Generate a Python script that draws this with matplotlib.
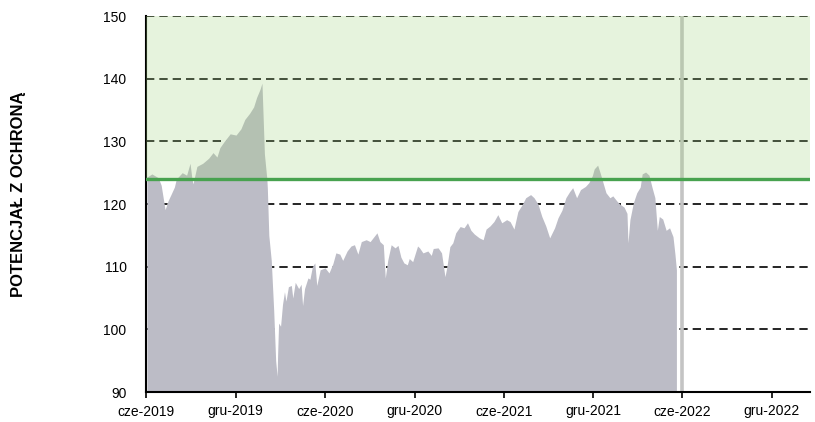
import numpy as np
import pandas as pd
import matplotlib
matplotlib.use("Agg")
import matplotlib.pyplot as plt

plt.rcParams['font.family'] = ['Liberation Sans', 'DejaVu Sans']

# series
dates = ['2019-06-03', '2019-06-13', '2019-06-26', '2019-07-02', '2019-07-10', '2019-07-16',
         '2019-07-22', '2019-07-29', '2019-08-02', '2019-08-14', '2019-08-23', '2019-08-30',
         '2019-09-03', '2019-09-05', '2019-09-13', '2019-09-25', '2019-10-07', '2019-10-16',
         '2019-10-24', '2019-10-30', '2019-11-08', '2019-11-20', '2019-12-02', '2019-12-12',
         '2019-12-20', '2019-12-30', '2020-01-07', '2020-01-13', '2020-01-20', '2020-01-24',
         '2020-01-29', '2020-02-03', '2020-02-04', '2020-02-07', '2020-02-12', '2020-02-17',
         '2020-02-21', '2020-02-24', '2020-02-25', '2020-02-27', '2020-03-02', '2020-03-06',
         '2020-03-10', '2020-03-13', '2020-03-18', '2020-03-24', '2020-03-27', '2020-04-01',
         '2020-04-08', '2020-04-13', '2020-04-16', '2020-04-20', '2020-04-27', '2020-05-01',
         '2020-05-06', '2020-05-11', '2020-05-15', '2020-05-22', '2020-06-01', '2020-06-09',
         '2020-06-17', '2020-06-23', '2020-07-01', '2020-07-07', '2020-07-16', '2020-07-24',
         '2020-07-31', '2020-08-07', '2020-08-14', '2020-08-24', '2020-09-01', '2020-09-09',
         '2020-09-15', '2020-09-21', '2020-09-28', '2020-10-02', '2020-10-07', '2020-10-14',
         '2020-10-22', '2020-10-28', '2020-11-03', '2020-11-09', '2020-11-16', '2020-11-20',
         '2020-11-27', '2020-12-07', '2020-12-11', '2020-12-18', '2020-12-28', '2021-01-04',
         '2021-01-08', '2021-01-18', '2021-01-25', '2021-01-29', '2021-02-01', '2021-02-05',
         '2021-02-11', '2021-02-17', '2021-02-23', '2021-03-04', '2021-03-12', '2021-03-19',
         '2021-03-26', '2021-04-02', '2021-04-12', '2021-04-20', '2021-04-26', '2021-05-04',
         '2021-05-12', '2021-05-20', '2021-05-28', '2021-06-07', '2021-06-14', '2021-06-22',
         '2021-06-30', '2021-07-08', '2021-07-16', '2021-07-26', '2021-08-02', '2021-08-10',
         '2021-08-18', '2021-08-26', '2021-09-03', '2021-09-13', '2021-09-20', '2021-09-28',
         '2021-10-06', '2021-10-14', '2021-10-20', '2021-10-28', '2021-11-05', '2021-11-15',
         '2021-11-22', '2021-11-29', '2021-12-03', '2021-12-10', '2021-12-15', '2021-12-21',
         '2021-12-27', '2022-01-04', '2022-01-10', '2022-01-18', '2022-01-24', '2022-02-02',
         '2022-02-08', '2022-02-10', '2022-02-14', '2022-02-21', '2022-02-28', '2022-03-07',
         '2022-03-11', '2022-03-18', '2022-03-25', '2022-03-31', '2022-04-06', '2022-04-11',
         '2022-04-15', '2022-04-22', '2022-04-29', '2022-05-06', '2022-05-13', '2022-05-17',
         '2022-05-20']
values = [124.3, 124.8, 124.2, 123.0, 119.1, 120.5,
          121.5, 122.7, 124.0, 125.0, 124.6, 126.5,
          124.0, 123.2, 126.0, 126.5, 127.3, 128.2,
          127.5, 129.0, 130.0, 131.2, 131.0, 132.0,
          133.5, 134.5, 135.5, 137.0, 138.3, 139.3,
          128.0, 124.0, 122.5, 115.0, 111.0, 103.0,
          95.0, 92.5, 96.0, 101.0, 100.5, 104.0,
          106.0, 104.5, 106.8, 107.0, 105.0, 107.5,
          106.5, 107.2, 103.8, 106.5, 108.2, 108.0,
          110.0, 110.6, 107.0, 109.5, 109.8, 109.0,
          110.5, 112.2, 112.0, 111.0, 112.5, 113.3,
          113.5, 112.0, 114.0, 114.3, 114.0, 114.8,
          115.4, 114.0, 113.5, 108.2, 111.0, 113.5,
          113.0, 113.4, 111.5, 110.6, 110.3, 111.3,
          110.8, 113.3, 113.0, 112.2, 112.5, 111.8,
          112.9, 113.0, 112.2, 110.0, 108.4, 110.0,
          113.2, 113.8, 115.4, 116.4, 116.2, 117.0,
          115.8, 115.2, 114.6, 114.3, 116.0, 116.5,
          117.2, 118.3, 117.0, 117.5, 117.2, 116.0,
          118.8, 119.8, 121.0, 121.5, 121.0, 120.0,
          118.0, 116.5, 114.6, 116.2, 117.8, 119.0,
          121.0, 122.0, 122.6, 121.0, 122.3, 122.8,
          123.4, 124.5, 125.6, 126.2, 125.0, 123.4,
          121.8, 121.0, 121.3, 120.5, 120.0, 119.5,
          118.5, 113.8, 117.5, 120.2, 121.8, 122.7,
          124.8, 125.1, 124.6, 122.7, 121.0, 115.8,
          118.0, 117.6, 115.8, 116.2, 114.8, 112.0,
          109.5]

protection_level = 124
band_top = 150
marker_date = '2022-06-01'

tick_dates = ['2019-06-01', '2019-12-01', '2020-06-01', '2020-12-01',
              '2021-06-01', '2021-12-01', '2022-06-01', '2022-12-01']
tick_labels = ['cze-2019', 'gru-2019', 'cze-2020', 'gru-2020',
               'cze-2021', 'gru-2021', 'cze-2022', 'gru-2022']
y_ticks = [90, 100, 110, 120, 130, 140, 150]

x = pd.to_datetime(dates)
x_min = pd.Timestamp('2019-06-01')
x_max = pd.Timestamp('2023-02-17')

fig = plt.figure(figsize=(8.15, 4.22), dpi=100)
ax = fig.add_axes([146/815, 30/422, 664/815, 376/422])

# dashed grid behind the area
for yv in y_ticks[1:]:
    ax.axhline(yv, color='black', lw=1.2, ls=(0, (5, 3)), zorder=1)

ax.fill_between(x, 90, values, color='#bcbcc6', lw=0, zorder=2)
ax.axvline(pd.Timestamp(marker_date), color='#c4c4c4', lw=2.6, zorder=2.5)

# green zone above protection level
ax.axhspan(protection_level, band_top, color='#9fd27a', alpha=0.25, lw=0, zorder=3)
ax.axhline(protection_level, color='#48a24f', lw=2.4, zorder=4)

ax.set_xlim(x_min, x_max)
ax.set_ylim(90, 150)
ax.set_yticks(y_ticks)
ax.set_xticks(pd.to_datetime(tick_dates))
ax.set_xticklabels(tick_labels)

ax.tick_params(axis='y', length=0, pad=14, labelsize=10)
ax.tick_params(axis='x', length=4, width=1.2, direction='out', pad=5, labelsize=10)

for s in ['top', 'right']:
    ax.spines[s].set_visible(False)
for s in ['left', 'bottom']:
    ax.spines[s].set_linewidth(1.5)
    ax.spines[s].set_color('black')

fig.text(19/815, 1 - 194/422, 'POTENCJAŁ Z OCHRONĄ', rotation=90, ha='center', va='center',
         fontsize=12, fontweight='bold')

fig.savefig('out.png', dpi=100)
